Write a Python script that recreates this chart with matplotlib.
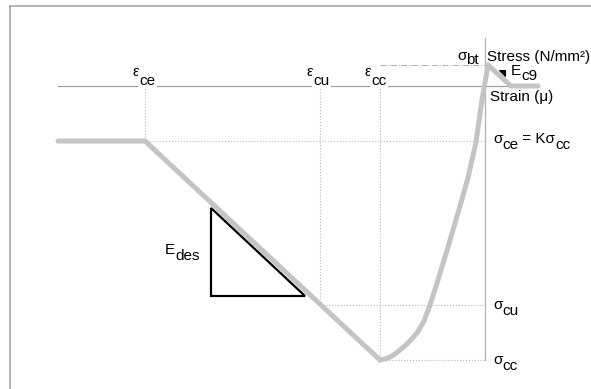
import matplotlib
matplotlib.use('Agg')
import matplotlib.pyplot as plt
from matplotlib.patches import Polygon

plt.rcParams['font.family'] = ['Liberation Sans', 'DejaVu Sans']

# key strains / stresses of the model (drawing units, origin at axis crossing)
eps_start = -427
eps_ce = -340
eps_cu = -165
eps_cc = -105
sig_ce = -55
sig_cu = -219
sig_cc = -274
sig_bt = 21

# compression envelope: plateau, then descending branch
comp_strain = [eps_start, eps_ce, eps_cc]
comp_stress = [sig_ce, sig_ce, sig_cc]

# ascending (unloading/reloading) curve from sigma_cc up to tension peak
curve_strain = [-105, -100, -95, -90, -85, -77, -68, -61, -55, -47, -37, -27, -17, -9, -3, 3]
curve_stress = [-274, -273, -271, -268, -264, -257, -247, -235, -219, -194, -161, -127, -92, -56, -14, 21]

# tension softening after peak
ten_strain = [3, 26, 53]
ten_stress = [21, 0, 0]

# slope triangle for E_des
tri_strain = [-274, -274, -180]
tri_stress = [-122, -210, -210]

# little slope marker for E_c9
mark_strain = [14, 20, 20]
mark_stress = [16, 16, 10]

fig = plt.figure(figsize=(5.91, 3.89), dpi=100)
ax = fig.add_axes([0, 0, 1, 1])
ax.set_xlim(-485, 106)
ax.set_ylim(-303, 86)
ax.axis('off')
renderer = fig.canvas.get_renderer()

fs = 11


def chain(x, y, parts, ha='left', bg=False):
    # pieces of text laid side by side, each with its own vertical shift (points)
    kw = dict(fontsize=fs, va='center', textcoords='offset points')
    if bg:
        kw['bbox'] = dict(facecolor='white', edgecolor='none', pad=1.0)
    if ha == 'right':
        parts = parts[::-1]
    dx = 0.0
    for txt, dy in parts:
        t = ax.annotate(txt, (x, y), xytext=(dx, dy), ha=ha, **kw)
        w = t.get_window_extent(renderer).width * 72 / fig.dpi
        dx = dx + w if ha == 'left' else dx - w


# frame
ax.plot([-475, 106], [80, 80], color='#a0a0a0', lw=1.1)
ax.plot([-475, -475], [80, -303], color='#a0a0a0', lw=1.1)

# axes
ax.plot([eps_start, 53], [0, 0], color='#a0a0a0', lw=0.9)
ax.plot([0, 0], [48, sig_cc], color='#b0b0b0', lw=0.9)

# guide lines
dot = dict(color='#b8b8b8', lw=0.8, ls=':')
ax.plot([eps_ce, eps_ce], [0, sig_ce], **dot)
ax.plot([eps_cu, eps_cu], [0, sig_cu], **dot)
ax.plot([eps_cc, eps_cc], [0, sig_cc], **dot)
ax.plot([eps_ce, 0], [sig_ce, sig_ce], **dot)
ax.plot([eps_cu, 0], [sig_cu, sig_cu], **dot)
ax.plot([eps_cc, 0], [sig_cc, sig_cc], **dot)
ax.plot([eps_cc, 0], [sig_bt, sig_bt], color='#b0b0b0', lw=0.7, ls='-.')

# stress-strain curve
thick = dict(color='#c4c4c4', lw=3.6, solid_capstyle='round', solid_joinstyle='round')
ax.plot(comp_strain, comp_stress, **thick)
ax.plot(curve_strain, curve_stress, **thick)
ax.plot(ten_strain, ten_stress, **thick)

ax.add_patch(Polygon(list(zip(tri_strain, tri_stress)), closed=True,
                     fill=False, edgecolor='black', lw=1.6))
ax.add_patch(Polygon(list(zip(mark_strain, mark_stress)), closed=True,
                     facecolor='black', edgecolor='black', lw=0.8))

# labels
chain(eps_ce - 12, 14, [('ε', 0), ('ce', -6.5)], bg=True)
chain(eps_cu - 13, 14, [('ε', 0), ('cu', -6.5)], bg=True)
chain(eps_cc - 15, 14, [('ε', 0), ('cc', -6.5)], bg=True)
chain(-6, 30, [('σ', 0), ('bt', -3)], ha='right')
ax.text(2, 29, 'Stress (N/mm²)', fontsize=fs, ha='left', va='center')
chain(26, 15, [('E', 0), ('c9', -3.5)])
ax.text(5, -11, 'Strain (μ)', fontsize=fs, ha='left', va='center')
chain(8, -53, [('σ', 0), ('ce', -4), (' = Kσ', 0), ('cc', -4)])
chain(8, -219, [('σ', 0), ('cu', -4.5)])
chain(8, -274, [('σ', 0), ('cc', -4.5)])
chain(-320, -164, [('E', 0), ('des', -4)])

fig.savefig('out.png', dpi=100)
